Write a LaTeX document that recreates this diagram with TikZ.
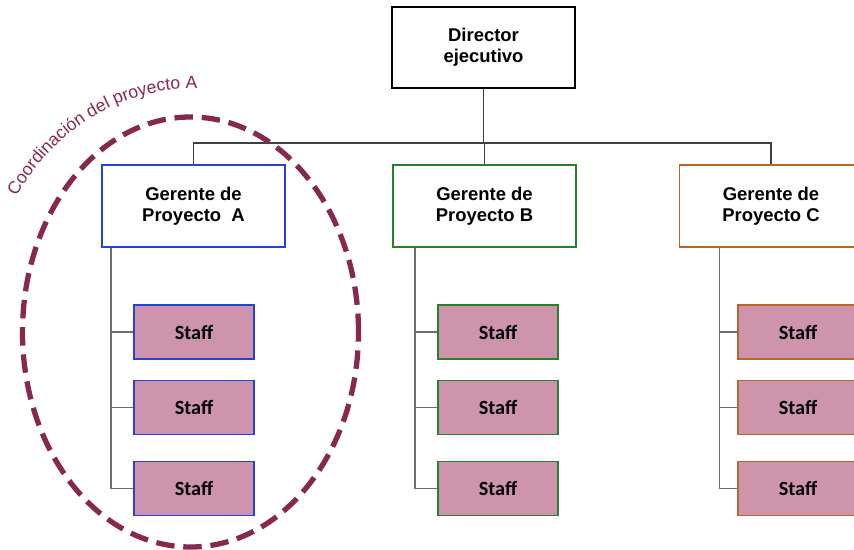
\documentclass[tikz,border=0pt]{standalone}
\usepackage{fontspec}
\setmainfont{Liberation Sans}
\newfontfamily\staffont{Carlito}
\usetikzlibrary{decorations.text}

\definecolor{coordred}{RGB}{135,40,78}
\definecolor{staffpink}{RGB}{205,148,172}
\definecolor{bordeA}{RGB}{35,65,220}
\definecolor{bordeB}{RGB}{40,128,45}
\definecolor{bordeC}{RGB}{185,102,40}
\definecolor{linegray}{RGB}{110,110,110}

\tikzset{
    gerente/.style={draw, line width=1.1pt, fill=white, minimum width=3.66cm, minimum height=1.64cm,
        align=center, font=\fontsize{10.5}{12}\selectfont\bfseries},
    staffbox/.style={draw, line width=1.1pt, fill=staffpink, minimum width=2.4cm, minimum height=1.08cm,
        font=\staffont\fontsize{11.5}{13}\selectfont\bfseries},
    enlace/.style={draw=linegray, line width=0.8pt},
}

\begin{document}
\begin{tikzpicture}[x=0.02cm, y=0.02cm]
    \useasboundingbox (0,0) rectangle (854,-550);

    % Director
    \node[gerente, draw=black, line width=1.4pt, minimum height=1.62cm] (dir) at (483.5,-47.5) {Director\\ejecutivo};

    % Gerentes
    \node[gerente, draw=bordeA] (gA) at (193.5,-206) {Gerente de\\Proyecto\ \ A};
    \node[gerente, draw=bordeB] (gB) at (484.5,-206) {Gerente de\\Proyecto B};
    \node[gerente, draw=bordeC] (gC) at (771,-206) {Gerente de\\Proyecto C};

    % Bus
    \coordinate (bus) at (483.5,-143);
    \draw[black!75, line width=0.7pt] (dir.south) -- (bus);
    \draw[black!75, line width=0.7pt] (gA.north) |- (gC.north |- bus) -- (gC.north);
    \draw[black!75, line width=0.7pt] (gB.north) -- (gB.north |- bus);

    % Staff
    \foreach \p/\sx/\off in {A/194/0.2cm, B/498/0.46cm, C/798/0.82cm} {
        \foreach \i/\sy in {1/-332, 2/-407.5, 3/-488.5} {
            \node[staffbox, draw=borde\p] (s\p\i) at (\sx,\sy) {Staff};
        }
        \coordinate (t\p) at ([xshift=\off]g\p.south west);
        \draw[enlace] (t\p) |- (s\p3.west);
        \draw[enlace] (t\p |- s\p1.west) -- (s\p1.west);
        \draw[enlace] (t\p |- s\p2.west) -- (s\p2.west);
    }

    % Coordinacion
    \draw[coordred, line width=3pt, dash pattern=on 10.5pt off 5pt] (190.5,-332) ellipse [x radius=168, y radius=215];
    \path[decorate, decoration={text along path, text align=left,
        text={|\fontsize{10}{12}\selectfont\color{coordred}|Coordinación del proyecto A}}]
        (190.5,-332) ++(146:210 and 243) arc[start angle=146, end angle=84, x radius=210, y radius=243];
\end{tikzpicture}
\end{document}
